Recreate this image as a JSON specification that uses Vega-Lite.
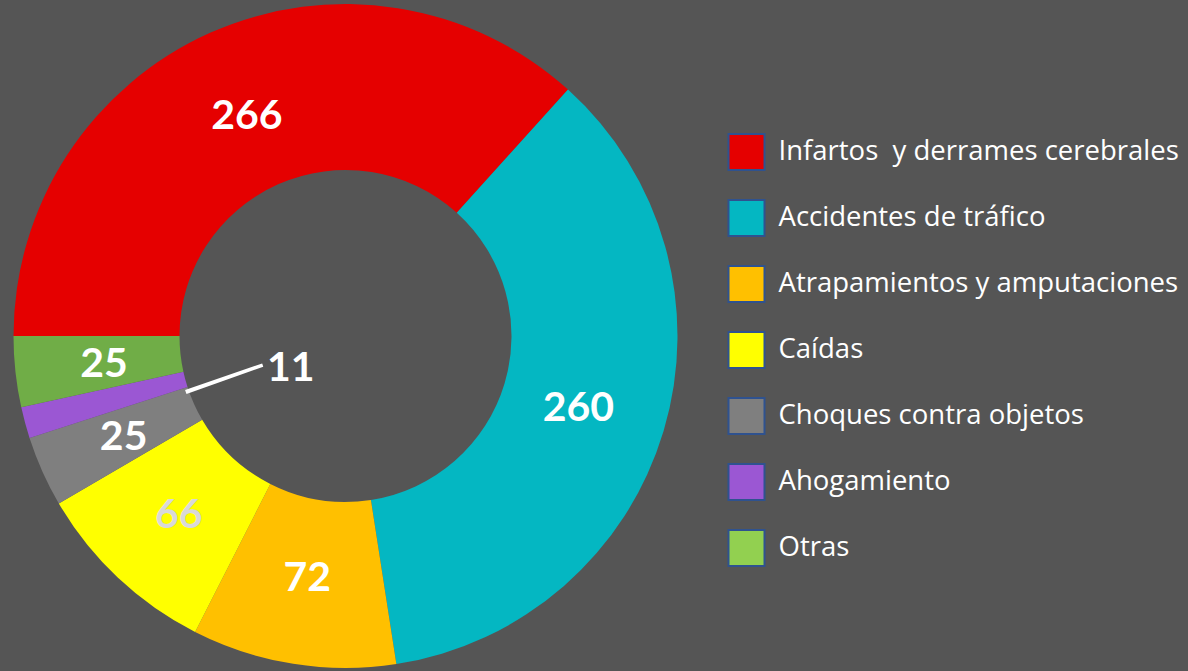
{
  "$schema": "https://vega.github.io/schema/vega-lite/v6.json",
  "width": 664,
  "height": 664,
  "autosize": {"type": "none"},
  "padding": {"left": 13.5, "top": 4, "right": 510.5, "bottom": 3},
  "background": "#555555",
  "config": {"view": {"stroke": null}, "font": "Lato"},
  "data": {
    "values": [
      {"causa": "Infartos  y derrames cerebrales", "valor": 266},
      {"causa": "Accidentes de tráfico", "valor": 260},
      {"causa": "Atrapamientos y amputaciones", "valor": 72},
      {"causa": "Caídas", "valor": 66},
      {"causa": "Choques contra objetos", "valor": 25},
      {"causa": "Ahogamiento", "valor": 11},
      {"causa": "Otras", "valor": 25}
    ]
  },
  "transform": [{"window": [{"op": "row_number", "as": "orden"}]}],
  "layer": [
    {
      "mark": {"type": "arc", "innerRadius": 166, "outerRadius": 332},
      "encoding": {
        "theta": {"field": "valor", "type": "quantitative", "stack": true, "scale": {"range": [4.71239, 10.99557]}},
        "order": {"field": "orden", "type": "quantitative"},
        "color": {
          "condition": {"test": "datum.causa === 'Otras'", "value": "#70AD47"},
          "field": "causa",
          "type": "nominal",
          "scale": {
            "domain": ["Infartos  y derrames cerebrales", "Accidentes de tráfico", "Atrapamientos y amputaciones", "Caídas", "Choques contra objetos", "Ahogamiento", "Otras"],
            "range": ["#E50000", "#04B7C2", "#FFC000", "#FFFF00", "#7F7F7F", "#9B57D3", "#92D050"]
          },
          "legend": {
            "title": null,
            "orient": "none",
            "legendX": 714,
            "legendY": 129,
            "symbolType": "square",
            "symbolSize": 1296,
            "symbolStrokeColor": "#2F528F",
            "symbolStrokeWidth": 2,
            "symbolOpacity": 1,
            "labelFont": "Open Sans",
            "labelFontSize": 27.5,
            "labelColor": "#FFFFFF",
            "labelOffset": 13,
            "rowPadding": 22,
            "labelLimit": 600,
            "labelExpr": "replace(datum.label, '  ', '\u00a0 ')"
          }
        }
      }
    },
    {
      "mark": {"type": "text", "radius": 243, "dy": 3, "fontSize": 41, "fontWeight": "bold", "font": "Lato"},
      "encoding": {
        "theta": {"field": "valor", "type": "quantitative", "stack": true},
        "order": {"field": "orden", "type": "quantitative"},
        "detail": {"field": "causa", "type": "nominal"},
        "text": {"condition": {"test": "datum.causa !== 'Ahogamiento'", "field": "valor", "type": "quantitative"}, "value": ""},
        "color": {"condition": {"test": "datum.causa === 'Caídas'", "value": "#D9D9D9"}, "value": "#FFFFFF"}
      }
    },
    {
      "mark": {"type": "text", "radius": 63, "dx": 6, "dy": 17, "fontSize": 41, "fontWeight": "bold", "font": "Lato", "color": "#FFFFFF"},
      "encoding": {
        "theta": {"field": "valor", "type": "quantitative", "stack": true},
        "order": {"field": "orden", "type": "quantitative"},
        "detail": {"field": "causa", "type": "nominal"},
        "text": {"condition": {"test": "datum.causa === 'Ahogamiento'", "field": "valor", "type": "quantitative"}, "value": ""}
      }
    },
    {
      "transform": [{"filter": "datum.causa === 'Ahogamiento'"}],
      "mark": {"type": "arc", "innerRadius": 89, "outerRadius": 168, "fill": "#FFFFFF", "stroke": "#FFFFFF", "strokeWidth": 2.5},
      "encoding": {
        "theta": {"datum": 685.5, "type": "quantitative"},
        "theta2": {"datum": 686.7}
      }
    }
  ]
}
